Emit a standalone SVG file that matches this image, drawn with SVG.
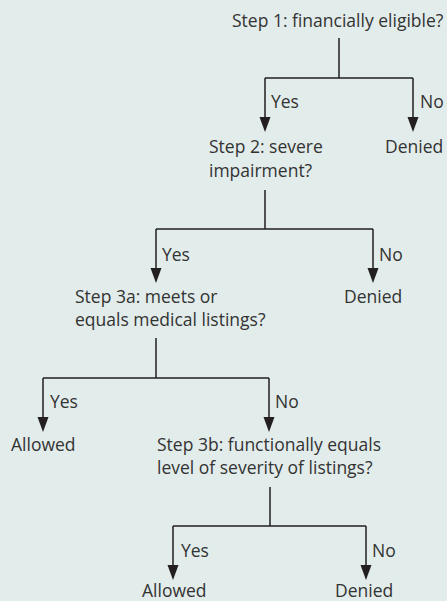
<svg xmlns="http://www.w3.org/2000/svg" width="447" height="601" viewBox="0 0 447 601">
<style>
text{font-family:"Open Sans","Noto Sans",sans-serif;font-size:17.5px;fill:#333333}
.c line{stroke:#231f20;stroke-width:1.5;fill:none}
.c polygon{fill:#231f20}
</style>
<rect width="447" height="601" fill="#e2ecea"/>
<g id="step1"><text x="232" y="27">Step 1: financially eligible?</text></g>
<g id="step2"><text x="209" y="153">Step 2: severe</text><text x="209" y="177">impairment?</text></g>
<g id="denied1"><text x="385" y="153">Denied</text></g>
<g id="step3a"><text x="75" y="303">Step 3a: meets or</text><text x="75" y="326">equals medical listings?</text></g>
<g id="denied2"><text x="344" y="303">Denied</text></g>
<g id="allowed1"><text x="11" y="451">Allowed</text></g>
<g id="step3b"><text x="157" y="451">Step 3b: functionally equals</text><text x="157" y="474">level of severity of listings?</text></g>
<g id="allowed2"><text x="142" y="597">Allowed</text></g>
<g id="denied3"><text x="335" y="597">Denied</text></g>
<g id="connectors" class="c">
<line x1="339" y1="38" x2="339" y2="78"/><line x1="265" y1="78" x2="413" y2="78"/>
<line x1="265" y1="78" x2="265" y2="120"/><line x1="413" y1="78" x2="413" y2="120"/>
<polygon points="259.5,117 270.5,117 265,132"/><polygon points="407.5,117 418.5,117 413,132"/>
<text x="271" y="108">Yes</text><text x="420" y="108">No</text>
<line x1="265" y1="190" x2="265" y2="229"/><line x1="156" y1="229" x2="373" y2="229"/>
<line x1="156" y1="229" x2="156" y2="271"/><line x1="373" y1="229" x2="373" y2="271"/>
<polygon points="150.5,268 161.5,268 156,283"/><polygon points="367.5,268 378.5,268 373,283"/>
<text x="162" y="261">Yes</text><text x="379" y="261">No</text>
<line x1="156" y1="338" x2="156" y2="378"/><line x1="43" y1="378" x2="269" y2="378"/>
<line x1="43" y1="378" x2="43" y2="420"/><line x1="269" y1="378" x2="269" y2="420"/>
<polygon points="37.5,417 48.5,417 43,432"/><polygon points="263.5,417 274.5,417 269,432"/>
<text x="50" y="408">Yes</text><text x="275" y="408">No</text>
<line x1="270" y1="487" x2="270" y2="526"/><line x1="173" y1="526" x2="366" y2="526"/>
<line x1="173" y1="526" x2="173" y2="568"/><line x1="366" y1="526" x2="366" y2="568"/>
<polygon points="167.5,565 178.5,565 173,580"/><polygon points="360.5,565 371.5,565 366,580"/>
<text x="181" y="557">Yes</text><text x="372" y="557">No</text>
</g>
</svg>
